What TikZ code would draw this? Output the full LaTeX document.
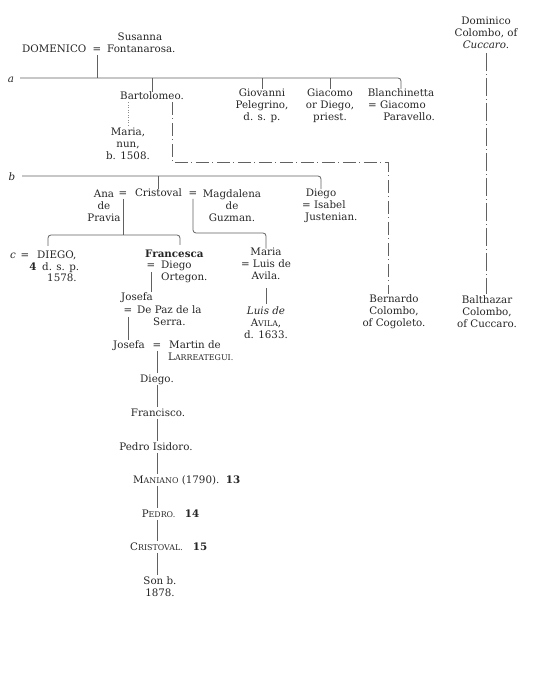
\documentclass[tikz,border=0pt]{standalone}
\usepackage{fontspec}
\setmainfont{DejaVu Serif}
\newcommand\smc[1]{{\fontsize{7.9}{8}\selectfont #1}}
\begin{document}
\begin{tikzpicture}[x=1pt,y=-1pt,
  t/.style={inner sep=0pt, align=center, font=\fontsize{10.3}{12}\selectfont, text=black!85},
  s/.style={t, text height=7.3pt, text depth=0pt},
  ln/.style={draw=black!62, line width=0.8pt},
  rc/.style={ln, rounded corners=3pt},
  dd/.style={ln, dash pattern=on 13pt off 3.5pt on 1pt off 3.5pt},
  dd2/.style={ln, dash pattern=on 18pt off 3pt on 1pt off 3pt},
  dt/.style={draw=black!45, line width=0.6pt, dash pattern=on 1pt off 1.5pt},
]
\useasboundingbox (0,0) rectangle (555,700);

% ---- top: Domenico
\node[s] (sus) at (140,37) {Susanna};
\node[s, anchor=west] (dom) at (22,49) {DOMENICO};
\node[s] (eqDF) at (97,49) {=};
\node[s, anchor=west] (fon) at (107,49) {Fontanarosa.};

\node[s] (la) at (11,79) {\textit{a}};
\coordinate (a0) at (20,78);

\node[s] (bart) at (152,96) {Bartolomeo.};
\node[t] (giov) at (262,105.7) {Giovanni\\Pelegrino,\\d. s. p.};
\node[t] (giac) at (330,105.7) {Giacomo\\or Diego,\\priest.};
\node[s] (bl1) at (401,93) {Blanchinetta};
\node[s, anchor=west] (bl2) at (368,105) {= Giacomo};
\node[s, anchor=east] (bl3) at (435,117) {Paravello.};

\node[t] (mnun) at (128,143.7) {Maria,\\nun,\\b. 1508.};

\draw[ln, shorten <=2pt] (eqDF.south) -- (eqDF.south |- a0);
\draw[rc] (a0) -| (bl1.north);
\draw[ln] (bart.north) -- (bart.north |- a0);
\draw[ln] (giov.north) -- (giov.north |- a0);
\draw[ln] (giac.north) -- (giac.north |- a0);
\draw[dt, shorten <=2pt, shorten >=2pt] (mnun.north) -- (mnun.north |- bart.south);

% ---- Colombo of Cuccaro
\node[t] (domc) at (486,32.7) {Dominico\\Colombo, of\\\textit{Cuccaro.}};
\node[t] (balth) at (487,311.7) {Balthazar\\Colombo,\\of Cuccaro.};
\node[t] (bern) at (394,311.7) {Bernardo\\Colombo,\\of Cogoleto.};
\draw[dd2, shorten <=4pt, shorten >=2pt] (domc.south) -- (domc.south |- balth.north);

\coordinate (d1) at (172,162);
\coordinate (d2) at (388,162);
\draw[dd, shorten <=2pt] (bart.south -| d1) -- (d1) -- (d2) -- (d2 |- bern.north);

% ---- b generation
\node[s] (lb) at (12,177) {\textit{b}};
\coordinate (b0) at (22,176);
\node[t] (ana) at (104,205.7) {Ana\\de\\Pravia};
\node[s] (eqAC) at (123,193) {=};
\node[s] (cris) at (158.5,193) {Cristoval};
\node[s] (eqCM) at (193,193) {=};
\node[t] (magd) at (232,205.7) {Magdalena\\de\\Guzman.};
\node[s] (dg1) at (321,193) {Diego};
\node[s, anchor=west] (dgi2) at (302,205) {= Isabel};
\node[s, anchor=west] (dgi3) at (305,217) {Justenian.};

\draw[rc] (b0) -| (dg1.north);
\draw[ln] (cris.north) -- (cris.north |- b0);

% ---- c generation
\coordinate (cy) at (0,235);
\coordinate (cy2) at (0,233);
\coordinate (cD) at (48,246);
\coordinate (cF) at (180,245);
\node[s] (lc) at (13,255) {\textit{c}};
\node[s] (eqc) at (25,255) {=};
\node[s, anchor=west] (dgc) at (37,255) {DIEGO,};
\node[s] (n4) at (33,267) {\textbf{4}};
\node[s, anchor=west] (dsp) at (42,267) {d. s. p.};
\node[s, anchor=west] (y1578) at (47,278) {1578.};

\node[s, anchor=west] (fran) at (145,254) {\textbf{Francesca}};
\node[s] (eqFD) at (151,265) {=};
\node[s, anchor=west] (fdiego) at (161,265) {Diego};
\node[s, anchor=west] (fort) at (161,277) {Ortegon.};

\node[t] (mariaL) at (266,263.7) {Maria\\= Luis de\\Avila.};
\node[t] (luis) at (266,322.7) {\textit{Luis de}\\A\smc{VILA},\\d. 1633.};

\draw[ln, shorten <=2pt] (eqAC.south) -- (eqAC.south |- cy);
\draw[rc] (cD) |- (cF |- cy) -- (cF);
\draw[rc, shorten <=2pt] (eqCM.south) |- (mariaL.north |- cy2) -- ([yshift=-1pt]mariaL.north);
\draw[ln, shorten <=8pt, shorten >=3pt] (mariaL.south) -- (mariaL.south |- luis.north);

% ---- Francesca's line
\node[s] (jos1) at (137,297) {Josefa};
\node[s] (eqJP) at (128,310) {=};
\node[s, anchor=west] (paz) at (137,310) {De Paz de la};
\node[s, anchor=west] (serra) at (153,322) {Serra.};
\node[s, anchor=west] (jos2) at (113,345) {Josefa};
\node[s] (eqJM) at (157,345) {=};
\node[s, anchor=west] (mart) at (169,345) {Martin de};
\node[s, anchor=west] (larr) at (168,357) {L\smc{ARREATEGUI.}};

\draw[ln, shorten <=3pt, shorten >=1pt] (eqFD.south) -- (eqFD.south |- jos1.north);
\draw[ln, shorten <=3pt, shorten >=1pt] (eqJP.south) -- (eqJP.south |- jos2.north);

\node[s] (dgD) at (157,379) {Diego.};
\node[s] (fr2) at (158,413) {Francisco.};
\node[s] (pis) at (156,447) {Pedro Isidoro.};
\node[s, anchor=west] (man) at (133,480) {M\smc{ANIANO} (1790).};
\node[s] (n13) at (233,480) {\textbf{13}};
\node[s] (ped) at (158.5,514) {P\smc{EDRO.}};
\node[s] (n14) at (192,514) {\textbf{14}};
\node[s] (crs) at (156.5,547) {C\smc{RISTOVAL.}};
\node[s] (n15) at (200,547) {\textbf{15}};
\node[t] (son) at (160,587) {Son b.\\1878.};

\coordinate (L) at (157,0);
\foreach \p/\q in {eqJM/dgD, dgD/fr2, fr2/pis, pis/man, man/ped, ped/crs, crs/son}
  \draw[ln, shorten <=2pt, shorten >=2pt] (L |- \p.south) -- (L |- \q.north);
\end{tikzpicture}
\end{document}
